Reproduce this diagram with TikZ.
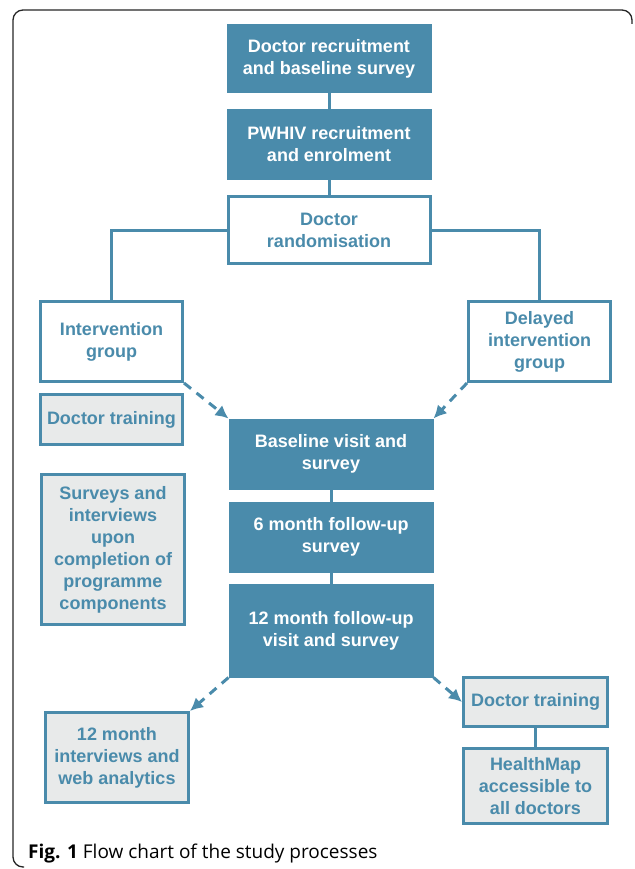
\documentclass[tikz,border=0pt]{standalone}
\usepackage{fontspec}
\setmainfont{Liberation Sans}
\newfontfamily\capfont{Open Sans}
\usetikzlibrary{arrows.meta}
\definecolor{tealc}{RGB}{74,139,171}
\definecolor{grayc}{RGB}{232,234,234}
\tikzset{
  boxtext/.style={font=\bfseries\fontsize{18}{22}\selectfont, align=center, inner sep=0pt},
  fillbox/.style={boxtext, fill=tealc, draw=tealc, line width=1pt, text=white},
  openbox/.style={boxtext, fill=white, draw=tealc, line width=3pt, text=tealc},
  graybox/.style={boxtext, fill=grayc, draw=tealc, line width=3pt, text=tealc},
  link/.style={draw=tealc, line width=3pt},
  dasharrow/.style={draw=tealc, line width=3pt, dash pattern=on 9pt off 7pt, -{Latex[length=13pt,width=13pt]}},
}
\begin{document}
\begin{tikzpicture}[x=1pt,y=-1pt]
\useasboundingbox (0,0) rectangle (634,869);
% frame
\draw[black!85, line width=1.3pt, rounded corners=10pt] (24,867) -- (13,867) -- (13,10) -- (632,10) -- (632,24);
% nodes
\node[fillbox, minimum width=204pt, minimum height=68pt] (A) at (329,59) {Doctor recruitment\\and baseline survey};
\node[fillbox, minimum width=204pt, minimum height=69pt] (B) at (329,144.5) {PWHIV recruitment\\and enrolment};
\node[openbox, minimum width=202pt, minimum height=67pt] (C) at (329,230) {Doctor\\randomisation};
\node[openbox, minimum width=142pt, minimum height=80pt] (IG) at (111.5,341.5) {Intervention\\group};
\node[openbox, minimum width=142pt, minimum height=80pt] (DG) at (539.5,341.5) {Delayed\\intervention\\group};
\node[graybox, minimum width=142pt, minimum height=50pt] (DT1) at (111.5,419.5) {Doctor training};
\node[graybox, minimum width=143pt, minimum height=150pt] (SI) at (113,549.5) {Surveys and\\interviews\\upon\\completion of\\programme\\components};
\node[fillbox, minimum width=204pt, minimum height=70pt] (BV) at (331,454) {Baseline visit and\\survey};
\node[fillbox, minimum width=204pt, minimum height=70pt] (SM) at (331,537) {6 month follow-up\\survey};
\node[fillbox, minimum width=204pt, minimum height=93pt] (TM) at (331,630.5) {12 month follow-up\\visit and survey};
\node[graybox, minimum width=143pt, minimum height=90pt] (LB) at (117,757.5) {12 month\\interviews and\\web analytics};
\node[graybox, minimum width=144pt, minimum height=49pt] (DT2) at (535.5,702) {Doctor training};
\node[graybox, minimum width=144pt, minimum height=75pt] (HM) at (535.5,786) {HealthMap\\accessible to\\all doctors};
% connectors
\draw[link] (A) -- (B);
\draw[link] (B) -- (C);
\draw[link] (C.west) -| (IG.north);
\draw[link] (C.east) -| (DG.north);
\draw[link] (BV) -- (SM);
\draw[link] (SM) -- (TM);
\draw[link] (DT2) -- (HM);
\draw[dasharrow] (IG.south east) -- (BV.north west);
\draw[dasharrow] (DG.south west) -- (BV.north east);
\draw[dasharrow] (TM.south west) -- (LB.north east);
\draw[dasharrow] (TM.south east) -- (DT2.west);
% caption
\node[anchor=base west, inner sep=0pt, font=\capfont\fontsize{19}{22}\selectfont] (cap) at (28,858) {\textbf{Fig. 1} Flow chart of the study processes};
\end{tikzpicture}
\end{document}
